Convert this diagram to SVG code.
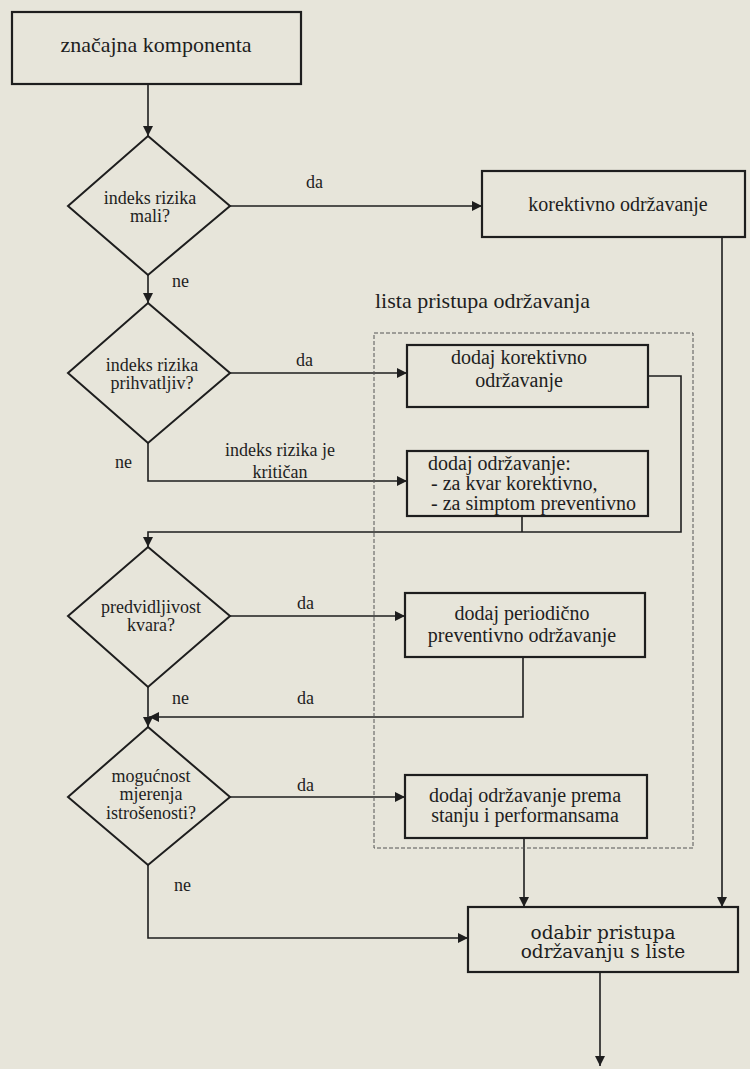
<svg xmlns="http://www.w3.org/2000/svg" width="750" height="1069" viewBox="0 0 750 1069">
<style>
.bg{fill:#e7e5da}
.box{fill:none;stroke:#1e1e1e;stroke-width:2.2}
.dia{fill:none;stroke:#1e1e1e;stroke-width:2}
.ln{fill:none;stroke:#1e1e1e;stroke-width:1.6}
.dash{fill:none;stroke:#555;stroke-width:1;stroke-dasharray:4 2}
text{font-family:"Liberation Serif","Times New Roman",serif;fill:#1e1e1e}
.t20{font-size:20px}
.t18{font-size:18px}
.t22{font-size:22px}
.c{text-anchor:middle}
.alt{font-family:"DejaVu Serif",serif;font-size:18.5px}
</style>
<defs>
<marker id="arr" viewBox="0 0 10 10" refX="10" refY="5" markerWidth="10" markerHeight="10" markerUnits="userSpaceOnUse" orient="auto">
<path d="M0,0 L10,5 L0,10 z" fill="#1e1e1e"/>
</marker>
</defs>
<rect class="bg" x="0" y="0" width="750" height="1069"/>

<g id="connectors">
<path class="ln" d="M148,84 V136" marker-end="url(#arr)"/>
<path class="ln" d="M230,206 H482" marker-end="url(#arr)"/>
<path class="ln" d="M148,275 V303" marker-end="url(#arr)"/>
<path class="ln" d="M230,373 H407" marker-end="url(#arr)"/>
<path class="ln" d="M148,443 V481 H407" marker-end="url(#arr)"/>
<path class="ln" d="M648,376 H681 V532 H148 V547" marker-end="url(#arr)"/>
<path class="ln" d="M522,516 V532"/>
<path class="ln" d="M230,616 H405" marker-end="url(#arr)"/>
<path class="ln" d="M148,687 V727" marker-end="url(#arr)"/>
<path class="ln" d="M523,657 V717 H149" marker-end="url(#arr)"/>
<path class="ln" d="M230,797 H405" marker-end="url(#arr)"/>
<path class="ln" d="M524,838 V907" marker-end="url(#arr)"/>
<path class="ln" d="M148,865 V938 H468" marker-end="url(#arr)"/>
<path class="ln" d="M722,237 V907" marker-end="url(#arr)"/>
<path class="ln" d="M600,972 V1066" marker-end="url(#arr)"/>
<text class="t18" x="306" y="188">da</text>
<text class="t18" x="172" y="287">ne</text>
<text class="t18" x="296" y="366">da</text>
<text class="t18" x="115" y="468">ne</text>
<text class="t18 c" x="280" y="456">indeks rizika je</text>
<text class="t18 c" x="280" y="478">kritičan</text>
<text class="t18" x="297" y="609">da</text>
<text class="t18" x="172" y="704">ne</text>
<text class="t18" x="297" y="704">da</text>
<text class="t18" x="297" y="791">da</text>
<text class="t18" x="174" y="891">ne</text>
</g>

<g id="list-container">
<rect class="dash" x="374" y="333" width="319" height="515"/>
<text class="t22" x="375" y="308">lista pristupa održavanja</text>
</g>

<g id="n-znacajna">
<rect class="box" x="12" y="12" width="289" height="72"/>
<text class="t22 c" x="156" y="52">značajna komponenta</text>
</g>

<g id="d-mali">
<polygon class="dia" points="148,136 230,206 148,275 68,206"/>
<text class="t18 c" x="150" y="204">indeks rizika</text>
<text class="t18 c" x="150" y="222">mali?</text>
</g>

<g id="n-korektivno">
<rect class="box" x="482" y="171" width="263" height="66"/>
<text class="t20 c" x="618" y="211">korektivno održavanje</text>
</g>

<g id="d-prihvatljiv">
<polygon class="dia" points="148,303 230,373 148,443 68,373"/>
<text class="t18 c" x="152" y="371">indeks rizika</text>
<text class="t18 c" x="152" y="389">prihvatljiv?</text>
</g>

<g id="n-dodaj-korektivno">
<rect class="box" x="407" y="345" width="241" height="62"/>
<text class="t20 c" x="519" y="364">dodaj korektivno</text>
<text class="t20 c" x="519" y="387">održavanje</text>
</g>

<g id="n-dodaj-odrzavanje">
<rect class="box" x="407" y="451" width="241" height="65"/>
<text class="t20" x="428" y="470">dodaj održavanje:</text>
<text class="t20" x="431" y="490">- za kvar korektivno,</text>
<text class="t20" x="431" y="510">- za simptom preventivno</text>
</g>

<g id="d-predvidljivost">
<polygon class="dia" points="148,547 230,616 148,687 68,616"/>
<text class="t18 c" x="151" y="613">predvidljivost</text>
<text class="t18 c" x="151" y="631">kvara?</text>
</g>

<g id="n-periodicno">
<rect class="box" x="405" y="593" width="240" height="64"/>
<text class="t20 c" x="522" y="620">dodaj periodično</text>
<text class="t20 c" x="522" y="642">preventivno održavanje</text>
</g>

<g id="d-mjerenje">
<polygon class="dia" points="148,727 230,797 148,865 68,797"/>
<text class="t18 c" x="151" y="782">mogućnost</text>
<text class="t18 c" x="151" y="800">mjerenja</text>
<text class="t18 c" x="151" y="819">istrošenosti?</text>
</g>

<g id="n-prema-stanju">
<rect class="box" x="405" y="775" width="242" height="63"/>
<text class="t20 c" x="525" y="802">dodaj održavanje prema</text>
<text class="t20 c" x="525" y="822">stanju i performansama</text>
</g>

<g id="n-odabir">
<rect class="box" x="468" y="907" width="270" height="65"/>
<text class="alt c" x="603" y="939">odabir pristupa</text>
<text class="alt c" x="603" y="958">održavanju s liste</text>
</g>
</svg>
